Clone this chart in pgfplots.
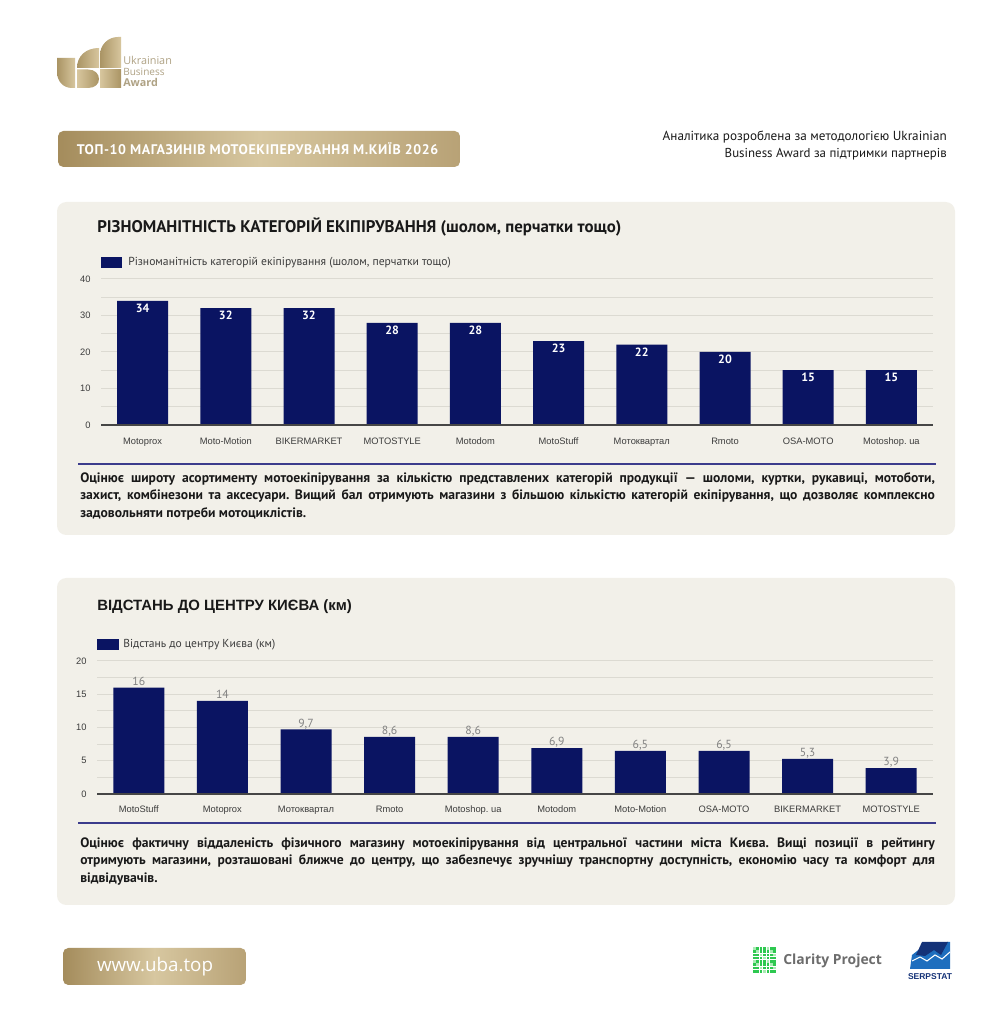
\documentclass[border=0pt]{standalone}
\usepackage{pgfplots}
\pgfplotsset{compat=1.18}
\usepackage{fontspec}
\setmainfont{PT Sans}
\newfontfamily\lib{Liberation Sans}
\newfontfamily\osans{Open Sans}
\definecolor{navy}{RGB}{10,20,98}
\definecolor{panel}{RGB}{242,240,233}
\definecolor{gridc}{RGB}{220,218,210}
\definecolor{axisc}{RGB}{70,70,70}
\definecolor{tick}{RGB}{60,60,60}
\definecolor{txt}{RGB}{25,25,25}
\definecolor{valg}{RGB}{130,130,130}
\definecolor{rulec}{RGB}{60,60,140}
\definecolor{bnL}{RGB}{164,140,92}
\definecolor{bnM}{RGB}{215,199,160}
\definecolor{bnR}{RGB}{184,162,118}
\definecolor{lgA}{RGB}{170,148,100}
\definecolor{lgB}{RGB}{215,198,158}
\definecolor{lgT}{RGB}{175,162,132}
\definecolor{clar}{RGB}{46,200,80}
\definecolor{clarL}{RGB}{170,235,180}
\definecolor{serpD}{RGB}{20,50,120}
\definecolor{serpB}{RGB}{30,110,190}
\newcommand{\fw}[2]{\resizebox{#1}{!}{#2}}
\frenchspacing
\begin{document}
\begin{tikzpicture}[x=0.75pt,y=0.75pt]
\fill[white] (0,0) rectangle (1004,1024);
% ---------- logo ----------
\shade[left color=lgA, right color=lgB] (57,1024-58) -- (75,1024-58) -- (75,1024-88) -- (72,1024-88) .. controls (63,1024-88) and (57,1024-81) .. (57,1024-72) -- cycle;
\shade[left color=lgA, right color=lgB] (99,1024-68) -- (77,1024-68) .. controls (77,1024-56) and (86,1024-48) .. (99,1024-48) -- cycle;
\shade[left color=lgB, right color=lgA] (77,1024-69.5) -- (88,1024-69.5) .. controls (95,1024-69.5) and (99,1024-74) .. (99,1024-79) .. controls (99,1024-84) and (95,1024-88) .. (88,1024-88) -- (77,1024-88) -- cycle;
\shade[left color=lgA, right color=lgB] (121,1024-68) -- (100,1024-68) -- (100,1024-55) .. controls (100,1024-45) and (108,1024-37) .. (118,1024-37) -- (121,1024-37) -- cycle;
\shade[left color=lgB, right color=lgA] (100,1024-69.5) rectangle (121,1024-88);
\node[anchor=base west, inner sep=0pt, text=lgT] at (123,1024-65) {\fw{36.5pt}{\osans Ukrainian}};
\node[anchor=base west, inner sep=0pt, text=lgT] at (123,1024-76) {\fw{31pt}{\osans Business}};
\node[anchor=base west, inner sep=0pt, text=lgT] at (123,1024-87) {\fw{26pt}{\osans\bfseries Award}};
% ---------- banner ----------
\shade[left color=bnL, right color=bnR, middle color=bnM, rounded corners=4pt] (58,1024-167) rectangle (460,1024-131);
\node[text=white, inner sep=0pt] at (257.5,1024-149) {\fw{271pt}{\bfseries\addfontfeatures{LetterSpace=4}ТОП-10 МАГАЗИНІВ МОТОЕКІПЕРУВАННЯ М.КИЇВ 2026}};
% ---------- header right ----------
\node[anchor=base east, inner sep=0pt, text=txt] at (947,1024-141) {\fw{213pt}{Аналітика розроблена за методологією Ukrainian}};
\node[anchor=base east, inner sep=0pt, text=txt] at (947,1024-158) {\fw{166.5pt}{Business Award за підтримки партнерів}};
% ---------- panels ----------
\fill[panel, rounded corners=7pt] (57,1024-535) rectangle (955,1024-202);
\fill[panel, rounded corners=7pt] (57,1024-905) rectangle (955,1024-578);
% ---------- panel 1 ----------
\node[anchor=west, inner sep=0pt, text=txt] at (97,1024-227) {\fw{393pt}{\bfseries РІЗНОМАНІТНІСТЬ КАТЕГОРІЙ ЕКІПІРУВАННЯ (шолом, перчатки тощо)}};
\fill[navy] (101,1024-268) rectangle (122,1024-257);
\node[anchor=west, inner sep=0pt, text=tick] at (128,1024-262.5) {\fw{242pt}{Різноманітність категорій екіпірування (шолом, перчатки тощо)}};
\coordinate (A1) at (101,1024-425);
\begin{axis}[at={(A1)}, anchor=south west, scale only axis,
  width=624pt, height=109.5pt,
  xmin=-0.5, xmax=9.5, ymin=0, ymax=40,
  axis line style={draw=none},
  ytick={0,10,20,30,40}, minor ytick={5,15,25,35},
  ymajorgrids, yminorgrids,
  major grid style={gridc, line width=0.75pt},
  minor grid style={gridc, line width=0.75pt},
  tick style={draw=none},
  xtick={0,...,9},
  xticklabels={Motoprox,Moto-Motion,BIKERMARKET,MOTOSTYLE,Motodom,MotoStuff,Мотоквартал,Rmoto,OSA-MOTO,Motoshop. ua},
  /pgf/number format/assume math mode=true,
  ticklabel style={font=\lib\fontsize{7}{8}\selectfont, text=tick},
  xticklabel style={anchor=base, yshift=-10.6pt},
  yticklabel style={xshift=-4.3pt},
  ybar, bar width=38.25pt, clip=false]
\addplot[fill=navy, draw=none, nodes near coords,
  every node near coord/.append style={anchor=north, text=white, font=\bfseries\fontsize{9}{9}\selectfont, inner sep=2.2pt}]
  coordinates {(0,34) (1,32) (2,32) (3,28) (4,28) (5,23) (6,22) (7,20) (8,15) (9,15)};
\draw[axisc, line width=1.1pt] (axis cs:-0.5,0) -- (axis cs:9.5,0);
\end{axis}
\draw[rulec, line width=1.1pt] (78,1024-464) -- (936,1024-464);
\node[anchor=north west, inner sep=0pt, text=txt] at (80,1024-472) {\parbox{641pt}{\fontsize{10.2}{13.1}\selectfont\bfseries\hyphenpenalty=10000\exhyphenpenalty=10000
Оцінює широту асортименту мотоекіпірування за кількістю представлених категорій продукції — шоломи, куртки, рукавиці, мотоботи,\linebreak
захист, комбінезони та аксесуари. Вищий бал отримують магазини з більшою кількістю категорій екіпірування, що дозволяє комплексно\linebreak
задовольняти потреби мотоциклістів.}};
% ---------- panel 2 ----------
\node[anchor=west, inner sep=0pt, text=txt] at (97,1024-607) {\fw{191pt}{\lib\bfseries ВІДСТАНЬ ДО ЦЕНТРУ КИЄВА (км)}};
\fill[navy] (97,1024-650) rectangle (119,1024-639);
\node[anchor=west, inner sep=0pt, text=tick] at (123,1024-644.5) {\fw{114pt}{Відстань до центру Києва (км)}};
\coordinate (A2) at (97,1024-794);
\begin{axis}[at={(A2)}, anchor=south west, scale only axis,
  width=627pt, height=99.75pt,
  xmin=-0.5, xmax=9.5, ymin=0, ymax=20,
  axis line style={draw=none},
  ytick={0,5,10,15,20}, minor ytick={2.5,7.5,12.5,17.5},
  ymajorgrids, yminorgrids,
  major grid style={gridc, line width=0.75pt},
  minor grid style={gridc, line width=0.75pt},
  tick style={draw=none},
  xtick={0,...,9},
  xticklabels={MotoStuff,Motoprox,Мотоквартал,Rmoto,Motoshop. ua,Motodom,Moto-Motion,OSA-MOTO,BIKERMARKET,MOTOSTYLE},
  /pgf/number format/assume math mode=true,
  /pgf/number format/use comma,
  ticklabel style={font=\lib\fontsize{7}{8}\selectfont, text=tick},
  xticklabel style={anchor=base, yshift=-9.6pt},
  yticklabel style={xshift=-4.3pt},
  ybar, bar width=38.25pt, clip=false]
\addplot[fill=navy, draw=none, nodes near coords,
  every node near coord/.append style={anchor=south, text=valg, font=\fontsize{8.8}{9}\selectfont, inner sep=1.5pt, text depth=0pt}]
  coordinates {(0,16) (1,14) (2,9.7) (3,8.6) (4,8.6) (5,6.9) (6,6.5) (7,6.5) (8,5.3) (9,3.9)};
\draw[axisc, line width=1.1pt] (axis cs:-0.5,0) -- (axis cs:9.5,0);
\end{axis}
\draw[rulec, line width=1.1pt] (78,1024-823) -- (936,1024-823);
\node[anchor=north west, inner sep=0pt, text=txt] at (80,1024-837.5) {\parbox{641pt}{\fontsize{10.2}{13.1}\selectfont\bfseries\hyphenpenalty=10000\exhyphenpenalty=10000
Оцінює фактичну віддаленість фізичного магазину мотоекіпірування від центральної частини міста Києва. Вищі позиції в рейтингу\linebreak
отримують магазини, розташовані ближче до центру, що забезпечує зручнішу транспортну доступність, економію часу та комфорт для\linebreak
відвідувачів.}};
% ---------- footer ----------
\shade[left color=bnL, right color=bnR, middle color=bnM, rounded corners=4pt] (63,1024-985) rectangle (246,1024-948);
\node[text=white, inner sep=0pt] at (155,1024-967) {\fw{87pt}{\osans www.uba.top}};
\foreach \i in {0,...,6}{\foreach \j in {0,...,7}{
  \pgfmathtruncatemacro{\k}{mod(\i*3+\j*5,4)}
  \ifnum\k=0 \fill[clarL] (753+\i*3.4,1024-947-\j*3.3) rectangle ++(2.6,-2.6); \else \fill[clar] (753+\i*3.4,1024-947-\j*3.3) rectangle ++(2.6,-2.6); \fi
}}
\node[anchor=west, inner sep=0pt, text=gray!85!black] at (783,1024-961) {\fw{74pt}{\osans\bfseries Clarity Project}};
\fill[serpB] (912,1024-955) -- (926,1024-944) -- (933,1024-949) -- (947,1024-942) -- (950,1024-942) -- (950,1024-969) -- (910,1024-969) -- cycle;
\fill[serpD] (922,1024-942) -- (948,1024-942) -- (941,1024-955) -- (934,1024-950) -- (925,1024-956) -- (916,1024-955) -- cycle;
\draw[white, line width=0.8pt] (912,1024-961) -- (920,1024-957) -- (927,1024-961) -- (935,1024-955) -- (942,1024-959) -- (950,1024-952);
\node[inner sep=0pt, text=serpD] at (930,1024-977) {\fw{33pt}{\lib\bfseries SERPSTAT}};
\end{tikzpicture}
\end{document}
